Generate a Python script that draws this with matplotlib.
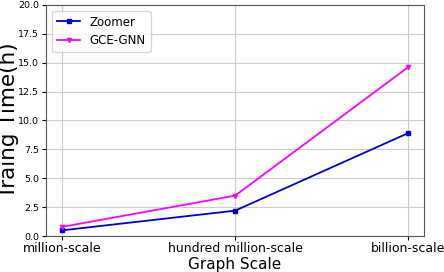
import matplotlib
matplotlib.use("Agg")
import matplotlib.pyplot as plt

escalas = ["million-scale", "hundred million-scale", "billion-scale"]
zoomer = [0.5, 2.2, 8.9]
gce_gnn = [0.8, 3.5, 14.6]

fig, ax = plt.subplots(figsize=(4.44, 2.72), dpi=100)
x = list(range(len(escalas)))

ax.plot(x, zoomer, color="#0000cc", marker="s", markersize=3, linewidth=1.3, label="Zoomer")
ax.plot(x, gce_gnn, color="#ff00ff", marker="v", markersize=3, linewidth=1.3, label="GCE-GNN")

ax.set_xticks(x)
ax.set_xticklabels(escalas, fontsize=9)
ax.set_xlim(-0.093, 2.093)
ax.set_ylim(0, 20)
ax.set_yticks([0, 2.5, 5, 7.5, 10, 12.5, 15, 17.5, 20])
ax.tick_params(axis="y", labelsize=6.8, pad=2, length=3)
ax.tick_params(axis="x", pad=1.5, length=3)
ax.grid(True, color="#cccccc", linewidth=0.8)
ax.set_axisbelow(True)
for s in ax.spines.values():
    s.set_color("#555555")

ax.set_xlabel("Graph Scale", fontsize=11, labelpad=1)
ax.set_ylabel("Traing Time(h)", fontsize=15.5)
ax.yaxis.set_label_coords(-0.073, 0.5)
ax.legend(loc="upper left", fontsize=8.5)

fig.subplots_adjust(left=0.104, right=0.955, top=0.982, bottom=0.132)
fig.savefig("out.png", dpi=100)
plt.close(fig)
